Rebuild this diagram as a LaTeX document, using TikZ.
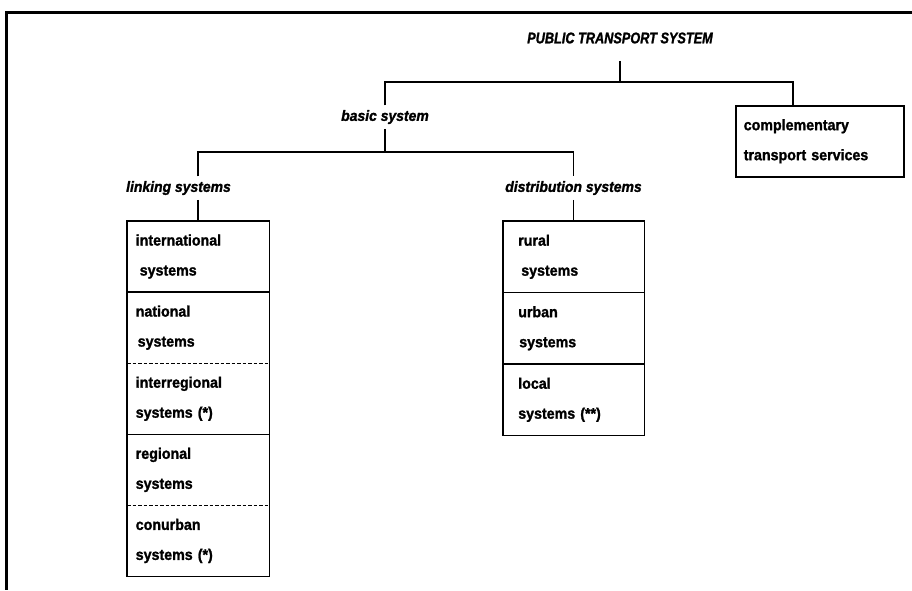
\documentclass[tikz,border=0pt]{standalone}
\usepackage{fontspec}
\setmainfont{Liberation Sans}
\newfontfamily\cellfont{Liberation Sans}[FakeStretch=0.93,FakeBold=1.4]
\newfontfamily\headfont{Liberation Sans}[FakeStretch=0.82,FakeBold=1.4]
\begin{document}
\begin{tikzpicture}[x=1pt,y=-1pt,
  line width=1.5pt,
  frame/.style={line width=3pt},
  title/.style={font=\headfont\bfseries\itshape\fontsize{15.5}{18}\selectfont,
    inner sep=0pt, minimum height=44pt},
  label/.style={font=\cellfont\bfseries\itshape\fontsize{15}{18}\selectfont,
    inner sep=0pt, minimum height=22pt},
  cell/.style={font=\cellfont\bfseries\fontsize{15.3}{30}\selectfont,
    align=left, anchor=north west, inner ysep=0pt, minimum height=69.6pt},
  lcell/.style={cell, text width=125pt, inner xsep=8pt},
  dcell/.style={cell, text width=111pt, inner xsep=14.5pt, minimum height=70pt},
  ccell/.style={cell, text width=152pt, inner xsep=8pt, minimum height=71pt},
  divider/.style={line width=1.6pt},
  dashdivider/.style={line width=1.2pt, dash pattern=on 3.5pt off 2pt}]
\useasboundingbox (0,0) rectangle (912,590);

% outer border of the sheet
\draw[frame] (912,12) -- (6,12) -- (6,590);

% headings
\node[title] (title) at (620,38) {PUBLIC TRANSPORT SYSTEM};
\node[label] (basic) at (385,117) {basic system};
\node[label] (link)  at (178.5,188) {linking systems};
\node[label] (dist)  at (573.5,188) {distribution systems};

% complementary services box
\node[ccell, draw] (comp) at (735,105) {complementary\\transport services};

% linking systems column
\node[lcell] (l1) at (127,221)   {international\\\hspace*{4pt}systems};
\node[lcell] (l2) at (l1.south west) {national\\\hspace*{2pt}systems};
\node[lcell] (l3) at (l2.south west) {interregional\\systems (*)};
\node[lcell] (l4) at (l3.south west) {regional\\systems};
\node[lcell] (l5) at (l4.south west) {conurban\\systems (*)};
\draw (l1.north west) rectangle (l5.south east);
\draw[divider]     (l1.south west) -- (l1.south east);
\draw[dashdivider] (l2.south west) -- (l2.south east);
\draw[divider]     (l3.south west) -- (l3.south east);
\draw[dashdivider] (l4.south west) -- (l4.south east);

% distribution systems column
\node[dcell] (d1) at (503,221)   {rural\\\hspace*{3pt}systems};
\node[dcell] (d2) at (d1.south west) {urban\\\hspace*{1pt}systems};
\node[dcell] (d3) at (d2.south west) {local\\systems (**)};
\draw (d1.north west) rectangle (d3.south east);
\draw[divider] (d1.south west) -- (d1.south east);
\draw[divider] (d2.south west) -- (d2.south east);

% tree connectors
\coordinate (tj) at (620,82);
\coordinate (cx) at (793,82);
\coordinate (lx) at (198,152);
\draw (title.south) -- (tj);
\draw (basic.north) -- (basic.north |- tj) -- (cx) -- (cx |- comp.north);
\draw (basic.south) -- (basic.south |- lx);
\draw (lx |- link.north) -- (lx) -- (lx -| dist.north) -- (dist.north);
\draw (lx |- link.south) -- (lx |- l1.north);
\draw (dist.south) -- (dist.south |- d1.north);
\end{tikzpicture}
\end{document}
